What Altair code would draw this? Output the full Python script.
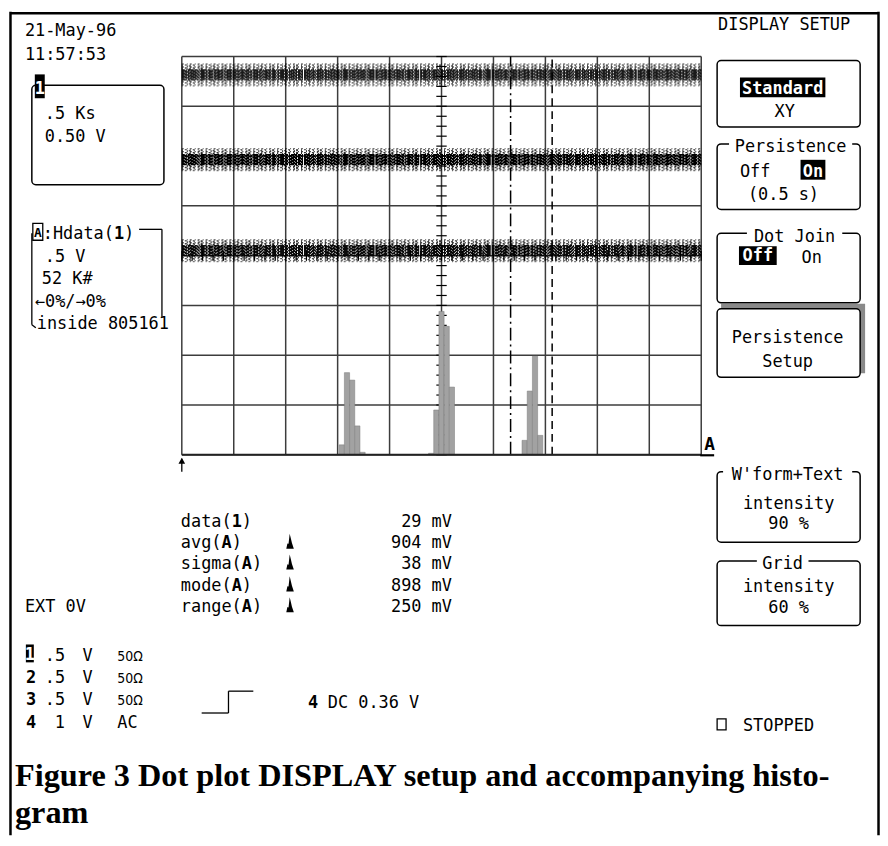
import altair as alt
import numpy as np
import pandas as pd

# ---------------- data ----------------
GRID_X = list(range(0, 11))          # vertical grid lines, divisions
GRID_Y = list(range(0, 9))           # horizontal grid lines, divisions
TRACE_LEVELS = [7.63, 5.93, 4.10]    # noise bands of the three traces (div)
TRACE_DENSITY = [0.9, 1.0, 0.94]

HIST1_START = [3.03, 3.13, 3.23, 3.33, 3.43]
HIST1_HEIGHT = [0.20, 1.65, 1.50, 0.58, 0.05]
HIST2_START = [4.75, 4.85, 4.95, 5.05, 5.15]
HIST2_HEIGHT = [0.03, 0.90, 2.88, 2.58, 1.36]
HIST3_START = [6.55, 6.65, 6.75, 6.85]
HIST3_HEIGHT = [0.29, 1.28, 1.98, 0.39]
BIN_WIDTH = 0.1

CURSOR_DASHDOT = 6.33
CURSOR_DASHED = 7.13

STATS_PREFIX = ["data(", "avg(", "sigma(", "mode(", "range("]
STATS_TAGS = ["1", "A", "A", "A", "A"]
STATS_VALUES = ["29 mV", "904 mV", "38 mV", "898 mV", "250 mV"]

CHANNELS = ["1", "2", "3", "4"]
CH_VDIV = [".5", ".5", ".5", "1"]
CH_COUPLING = ["50Ω", "50Ω", "50Ω", "AC"]

# ---------------- layout / style ----------------
MONO = "DejaVu Sans Mono"
NARROW = "DejaVu Sans Condensed, Liberation Sans Narrow, DejaVu Sans"
SERIF = "Liberation Serif"
FS = 17
ADV = 0.6021 * FS
OFF = 8  # page margin

XS = alt.Scale(domain=[0, 10], range=[183 - OFF, 706 - OFF])
YS = alt.Scale(domain=[0, 8], range=[455 - OFF, 54 - OFF])


def P(v):
    return v - OFF


def text_layer(rows, size=FS, weight="normal", color="black", align="left", font=MONO):
    df = pd.DataFrame([{"t": t, "x": P(x), "y": P(y)} for t, x, y in rows])
    return alt.Chart(df).mark_text(
        align=align, baseline="alphabetic", font=font, fontSize=size,
        fontWeight=weight, color=color
    ).encode(
        x=alt.X("x:Q", scale=None, axis=None),
        y=alt.Y("y:Q", scale=None, axis=None),
        text="t:N",
    )


def rect_layer(rows, fill=None, stroke=None, sw=1.5, radius=0):
    df = pd.DataFrame([{"x": P(a), "y": P(b), "x2": P(c), "y2": P(d)} for a, b, c, d in rows])
    kw = {"cornerRadius": radius}
    if fill is not None:
        kw["fill"] = fill
    else:
        kw["fillOpacity"] = 0
        kw["fill"] = "white"
    if stroke is not None:
        kw["stroke"] = stroke
        kw["strokeWidth"] = sw
    return alt.Chart(df).mark_rect(**kw).encode(
        x=alt.X("x:Q", scale=None, axis=None), x2="x2:Q",
        y=alt.Y("y:Q", scale=None, axis=None), y2="y2:Q",
    )


def rule_layer(rows, sw=1.5, color="black"):
    df = pd.DataFrame([{"x": P(a), "y": P(b), "x2": P(c), "y2": P(d)} for a, b, c, d in rows])
    return alt.Chart(df).mark_rule(strokeWidth=sw, color=color).encode(
        x=alt.X("x:Q", scale=None, axis=None), x2="x2:Q",
        y=alt.Y("y:Q", scale=None, axis=None), y2="y2:Q",
    )


layers = []

# ---------------- scope graticule ----------------
gv = pd.DataFrame({"gx": GRID_X, "y0": 0, "y1": 8})
layers.append(alt.Chart(gv).mark_rule(color="#3c3c3c", strokeWidth=1.5).encode(
    x=alt.X("gx:Q", scale=XS, axis=None),
    y=alt.Y("y0:Q", scale=YS, axis=None), y2="y1:Q"))
gh = pd.DataFrame({"gy": GRID_Y, "x0": 0, "x1": 10})
layers.append(alt.Chart(gh).mark_rule(color="#3c3c3c", strokeWidth=1.5).encode(
    y=alt.Y("gy:Q", scale=YS, axis=None),
    x=alt.X("x0:Q", scale=XS, axis=None), x2="x1:Q"))

# centre-axis ticks (every 0.2 div)
tv = pd.DataFrame({"ty": np.round(np.arange(0, 8.001, 0.2), 2), "x0": 4.9, "x1": 5.1})
layers.append(alt.Chart(tv).mark_rule(color="black", strokeWidth=1.2).encode(
    y=alt.Y("ty:Q", scale=YS, axis=None),
    x=alt.X("x0:Q", scale=XS, axis=None), x2="x1:Q"))
th = pd.DataFrame({"tx": np.round(np.arange(0, 10.001, 0.2), 2), "y0": 3.9, "y1": 4.1})
layers.append(alt.Chart(th).mark_rule(color="black", strokeWidth=1.2).encode(
    x=alt.X("tx:Q", scale=XS, axis=None),
    y=alt.Y("y0:Q", scale=YS, axis=None), y2="y1:Q"))

# ---------------- histogram ----------------
hist_rows = []
for starts, heights in [(HIST1_START, HIST1_HEIGHT), (HIST2_START, HIST2_HEIGHT), (HIST3_START, HIST3_HEIGHT)]:
    for s, h in zip(starts, heights):
        hist_rows.append({"b0": s, "b1": s + BIN_WIDTH, "h": h, "z": 0})
hist = pd.DataFrame(hist_rows)
layers.append(alt.Chart(hist).mark_rect(fill="#a2a2a2", stroke="#7a7a7a", strokeWidth=0.5).encode(
    x=alt.X("b0:Q", scale=XS, axis=None), x2="b1:Q",
    y=alt.Y("h:Q", scale=YS, axis=None), y2="z:Q"))

# ---------------- cursors ----------------
c1 = pd.DataFrame({"cx": [CURSOR_DASHDOT], "y0": 0, "y1": 8})
layers.append(alt.Chart(c1).mark_rule(color="black", strokeWidth=1.5, strokeDash=[13, 4, 2, 4]).encode(
    x=alt.X("cx:Q", scale=XS, axis=None), y=alt.Y("y0:Q", scale=YS, axis=None), y2="y1:Q"))
c2 = pd.DataFrame({"cx": [CURSOR_DASHED], "y0": 0, "y1": 8})
layers.append(alt.Chart(c2).mark_rule(color="black", strokeWidth=1.5, strokeDash=[8, 5]).encode(
    x=alt.X("cx:Q", scale=XS, axis=None), y=alt.Y("y0:Q", scale=YS, axis=None), y2="y1:Q"))

# ---------------- traces (dot bands, speckle texture) ----------------
PATS = {
    "c1": [5, 1, 2, 1],
    "c2": [3, 1, 1, 1, 6, 1],
    "c3": [2, 1, 4, 1],
    "o1": [1, 2, 2, 3],
    "o2": [2, 3, 1, 2],
    "o3": [1, 4, 1, 1, 2, 3],
}
offsets = np.round(np.arange(-0.22, 0.2201, 0.02), 2)
trace_rows = []
for lvl, dens in zip(TRACE_LEVELS, TRACE_DENSITY):
    for i, o in enumerate(offsets):
        if abs(o) <= 0.1:
            pat = ["c1", "c2", "c3"][i % 3]
            op = 1.0
        else:
            pat = ["o1", "o2", "o3"][i % 3]
            op = 0.92 - (abs(o) - 0.1) * 3.0
        trace_rows.append({"ty": lvl + o, "x0": 0, "x1": 10, "pat": pat, "op": op * dens})
traces = pd.DataFrame(trace_rows)
layers.append(alt.Chart(traces).mark_rule(strokeWidth=1.4, color="black").encode(
    y=alt.Y("ty:Q", scale=YS, axis=None),
    x=alt.X("x0:Q", scale=XS, axis=None), x2="x1:Q",
    strokeDash=alt.StrokeDash("pat:N", scale=alt.Scale(domain=list(PATS.keys()), range=list(PATS.values())), legend=None),
    opacity=alt.Opacity("op:Q", scale=None),
))

# plot frame bottom (histogram baseline)
layers.append(rule_layer([(183, 455, 706, 455)], sw=2, color="#222"))

# ---------------- boxes ----------------
layers.append(rect_layer([(726, 303, 871, 373)], fill="#8a8a8a"))  # 3D shadow
layers.append(rect_layer([
    (32, 83, 165, 183),
    (722, 58, 866, 125),
    (722, 142, 866, 208),
    (722, 232, 866, 302),
    (722, 308, 866, 377),
    (722, 472, 866, 543),
    (722, 562, 866, 627),
], fill="white", stroke="black", sw=1.5, radius=4))
# title backgrounds breaking the box tops
layers.append(rect_layer([
    (734, 133, 858, 152),
    (752, 224, 848, 243),
    (728, 463, 858, 482),
    (762, 553, 814, 572),
], fill="white"))
# inverse labels
layers.append(rect_layer([
    (35, 72, 45, 96),
    (26, 646, 34, 664),
    (745, 75, 831, 95),
    (806, 158, 831, 178),
    (744, 245, 782, 264),
], fill="black"))
# small outline boxes
HD = 238  # baseline of the Hdata title line
layers.append(rect_layer([(33, HD - 16, 43, HD + 1), (722, 721, 731, 732)], stroke="black", sw=1.3))

# ---------------- lines ----------------
layers.append(rule_layer([
    (10.5, 9, 10.5, 838), (10, 10.5, 885, 10.5), (884.5, 9, 884.5, 838),
], sw=2.5))
layers.append(rule_layer([
    (140, HD - 10, 163, HD - 10), (163, HD - 10, 163, HD + 78), (32, HD - 6, 32, HD + 86),
    (32, HD + 86, 36, HD + 89),
    (203, 715, 230, 715), (230, 693, 230, 715), (230, 693, 255, 693),
    (183, 459, 183, 472),
], sw=1.3))
layers.append(rule_layer([(705, 455.5, 719, 455.5)], sw=2.2))

# arrow head (trigger position)
arr = pd.DataFrame({"x": [P(183)], "y": [P(461)]})
layers.append(alt.Chart(arr).mark_point(shape="triangle-up", filled=True, color="black", size=45, opacity=1).encode(
    x=alt.X("x:Q", scale=None, axis=None), y=alt.Y("y:Q", scale=None, axis=None)))

# histogram icons in the statistics list
STAT_BASE = [528, 549, 570, 592, 613]
ICON = "M -0.5 1 L -0.35 0.3 L -0.2 0.35 L -0.05 -1 L 0.1 -0.4 L 0.25 0.25 L 0.5 1 Z"
icons = pd.DataFrame({"x": [P(292)] * 4, "y": [P(b - 7) for b in STAT_BASE[1:]]})
layers.append(alt.Chart(icons).mark_point(shape=ICON, filled=True, color="black", size=230, opacity=1).encode(
    x=alt.X("x:Q", scale=None, axis=None), y=alt.Y("y:Q", scale=None, axis=None)))

# ---------------- texts ----------------
CH_BASE = [663, 685, 707, 730]
normal_left = [
    ("21-May-96", 25, 33), ("11:57:53", 25, 58),
    (".5 Ks", 45, 117), ("0.50 V", 45, 140),
    (":Hdata(", 43, HD), (")", 43 + 8 * ADV, HD),
    (".5 V", 45, HD + 23), ("52 K#", 42, HD + 45),
    ("←0%/→0%", 35, HD + 68), ("inside 805161", 37, HD + 90),
    ("EXT 0V", 25, 613),
    ("DC 0.36 V", 330, 710), ("STOPPED", 748, 733),
    ("DISPLAY SETUP", 723, 27),
    ("Off", 745, 175), ("(0.5 s)", 753, 198), ("On", 807, 262),
]
for pre, b in zip(STATS_PREFIX, STAT_BASE):
    normal_left.append((pre, 182, b))
    normal_left.append((")", 182 + (len(pre) + 1) * ADV, b))
for v, b in zip(CH_VDIV, CH_BASE):
    normal_left.append((v, 45 if v.startswith(".") else 55, b))
    normal_left.append(("V", 83, b))
normal_left.append((CH_COUPLING[3], 118, CH_BASE[3]))
layers.append(text_layer(normal_left))

layers.append(text_layer([(c, 118, b) for c, b in zip(CH_COUPLING[:3], CH_BASE[:3])], size=14, font=NARROW))

normal_center = [
    ("XY", 790, 115), ("Persistence", 796, 150), ("Dot Join", 800, 241),
    ("Persistence", 793, 342), ("Setup", 793, 367),
    ("W'form+Text", 793, 480), ("intensity", 794, 510), ("90 %", 794, 530),
    ("Grid", 788, 570), ("intensity", 794, 593), ("60 %", 794, 614),
]
layers.append(text_layer(normal_center, align="center"))

layers.append(text_layer([(v, 455, b) for v, b in zip(STATS_VALUES, STAT_BASE)], align="right"))

bold_left = [("1", 43 + 7 * ADV, HD), ("4", 310, 710)]
for pre, tag, b in zip(STATS_PREFIX, STATS_TAGS, STAT_BASE):
    bold_left.append((tag, 182 + len(pre) * ADV, b))
for c, b in zip(CHANNELS[1:], CH_BASE[1:]):
    bold_left.append((c, 26, b))
layers.append(text_layer(bold_left, weight="bold"))
layers.append(text_layer([("A", 38, HD - 2)], size=13, weight="bold", align="center"))
layers.append(text_layer([("A", 709, 450)], size=18, weight="bold"))

white_center = [
    ("1", 40, 92), (CHANNELS[0], 30, 662),
    ("Standard", 788, 92), ("On", 818.5, 175), ("Off", 763, 260),
]
layers.append(text_layer(white_center, weight="bold", color="white", align="center"))

caption = [
    ("Figure 3 Dot plot DISPLAY setup  and accompanying histo-", 15, 789),
    ("gram", 15, 826),
]
layers.append(text_layer(caption, size=32.5, weight="bold", font=SERIF))

chart = alt.layer(*layers).resolve_scale(x="independent", y="independent").properties(
    width=878, height=830, padding=0,
    autosize=alt.AutoSizeParams(type="none"),
    background="white",
).configure_view(stroke=None)

chart.save("out.html", embed_options={"renderer": "svg", "actions": False})
